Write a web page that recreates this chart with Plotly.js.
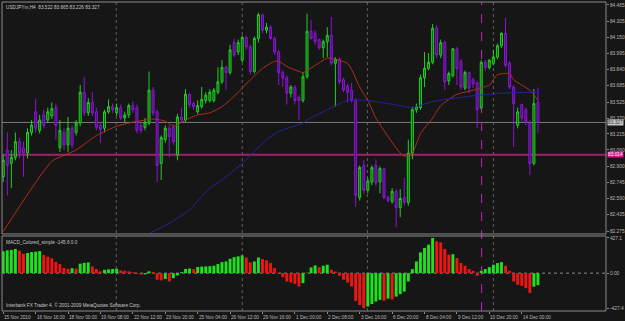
<!DOCTYPE html>
<html><head><meta charset="utf-8">
<script src="https://cdn.plot.ly/plotly-3.0.1.min.js"></script>
<style>html,body{margin:0;padding:0;background:#161616;}#chart{width:625px;height:321px;}</style>
</head><body><div id="chart"></div>
<script>
// H4 candles, USDJPYm (bar number 0 = 15 Nov 2010)
const opens = [
82.80,83.06,82.93,82.99,83.14,83.08,83.03,83.23,83.43,83.25,
83.40,83.35,83.39,83.47,83.08,83.23,83.11,83.27,83.23,83.32,
83.62,83.42,83.52,83.43,83.30,83.27,83.43,83.48,83.42,83.47,
83.37,83.40,83.49,83.47,83.30,83.28,83.32,83.64,83.43,82.93,
83.16,83.27,83.28,83.01,83.38,83.35,83.60,83.51,83.43,83.48,
83.54,83.54,83.54,83.62,83.72,83.86,83.81,84.10,84.01,83.93,
84.15,84.06,83.82,84.14,84.37,84.22,84.25,84.14,84.01,83.81,
83.76,83.61,83.67,83.57,83.54,83.77,84.21,84.19,84.13,84.05,
84.11,84.17,83.90,83.94,83.74,83.68,83.64,83.54,82.60,82.91,
82.67,82.75,82.91,82.75,82.88,82.60,82.56,82.66,82.50,82.60,
82.55,83.03,83.45,83.47,83.76,83.85,83.91,84.24,83.98,84.10,
83.73,83.78,84.04,83.92,83.66,83.81,83.74,83.71,83.47,83.91,
83.86,83.90,83.96,84.07,84.19,83.90,83.67,83.30,83.50,83.45,
83.32,82.93,83.522];
const highs = [
83.01,83.23,83.06,83.23,83.18,83.14,83.27,83.35,83.56,83.40,
83.45,83.47,83.52,83.51,83.35,83.27,83.38,83.30,83.35,83.69,
83.77,83.56,83.62,83.47,83.33,83.45,83.55,83.51,83.51,83.50,
83.43,83.51,83.53,83.50,83.33,83.37,83.82,83.67,83.45,83.20,
83.30,83.30,83.31,83.41,83.47,83.65,83.61,83.53,83.54,83.67,
83.62,83.65,83.66,83.86,83.93,83.88,84.08,84.14,84.13,84.17,
84.17,84.08,84.16,84.39,84.38,84.29,84.27,84.16,84.03,83.83,
83.78,83.69,83.69,83.59,83.81,84.38,84.32,84.22,84.14,84.13,
84.25,84.35,83.96,83.96,83.76,83.70,83.71,83.56,82.91,82.96,
82.79,82.91,82.97,82.90,82.89,82.62,82.69,82.68,82.68,82.79,
83.16,83.48,83.51,83.79,84.01,84.00,84.28,84.27,84.13,84.12,
83.82,84.05,84.06,83.94,83.83,83.82,83.76,83.73,83.93,83.93,
83.94,84.03,84.09,84.20,84.34,83.92,83.69,83.47,83.51,83.47,
83.35,83.65,83.665];
const lows = [
82.75,82.62,82.69,82.96,82.98,82.80,82.98,83.20,83.23,83.22,
83.27,83.32,83.36,83.16,83.04,83.06,83.04,83.08,83.20,83.29,
83.39,83.39,83.39,83.25,83.13,83.23,83.41,83.42,83.39,83.35,
83.33,83.37,83.42,83.22,83.22,83.25,83.30,83.39,82.75,82.77,
83.13,82.99,83.11,82.96,83.32,83.33,83.47,83.45,83.41,83.46,
83.51,83.52,83.52,83.60,83.70,83.64,83.79,83.96,83.98,83.91,
84.03,83.79,83.80,84.10,84.19,84.19,84.13,83.98,83.69,83.67,
83.50,83.57,83.50,83.35,83.52,83.75,84.13,84.08,84.03,83.95,
83.96,83.88,83.48,83.70,83.62,83.52,83.52,82.51,82.57,82.64,
82.64,82.72,82.71,82.64,82.58,82.55,82.54,82.31,82.41,82.52,
82.52,82.97,83.42,83.45,83.67,83.83,83.89,83.95,83.95,83.64,
83.69,83.76,83.69,83.64,83.64,83.61,83.66,83.27,83.45,83.83,
83.84,83.88,83.94,84.05,83.86,83.65,83.09,83.27,83.33,83.30,
82.82,82.91,83.226];
const closes = [
82.96,82.91,82.99,83.14,83.03,83.03,83.23,83.30,83.27,83.35,
83.30,83.43,83.46,83.30,83.25,83.11,83.27,83.11,83.32,83.62,
83.42,83.52,83.42,83.28,83.26,83.43,83.48,83.45,83.47,83.37,
83.40,83.49,83.45,83.25,83.25,83.33,83.64,83.42,82.91,83.18,
83.27,83.19,83.14,83.38,83.35,83.60,83.50,83.48,83.49,83.55,
83.59,83.62,83.64,83.72,83.86,83.81,84.03,83.98,84.10,84.15,
84.06,83.82,84.14,84.37,84.22,84.25,84.14,84.01,83.81,83.76,
83.61,83.67,83.54,83.54,83.77,84.21,84.14,84.11,84.05,84.11,
84.17,83.90,83.94,83.72,83.64,83.62,83.54,82.62,82.89,82.67,
82.76,82.89,82.74,82.88,82.60,82.57,82.66,82.50,82.59,82.55,
83.03,83.45,83.48,83.76,83.85,83.91,84.24,83.98,84.10,83.72,
83.80,84.04,83.85,83.67,83.81,83.66,83.70,83.45,83.91,83.86,
83.93,83.96,84.07,84.19,83.88,83.67,83.51,83.43,83.37,83.33,
82.93,83.51,83.327];
// MACD_Colored_simple histogram
const macd = [
265,277,282,293,273,236,244,256,260,268,
220,200,180,135,110,62,52,60,55,115,
125,130,82,50,22,40,46,50,54,34,
28,22,10,-10,-18,-15,22,10,-80,-88,
-72,-100,-62,-28,12,50,56,48,75,80,
82,85,90,110,134,142,175,195,204,216,
191,130,142,190,171,155,122,61,-5,-49,
-102,-114,-130,-163,-122,5,69,94,73,90,
102,41,20,-33,-81,-114,-163,-338,-387,-427,
-405,-375,-345,-325,-335,-310,-320,-285,-255,-224,
-102,49,142,252,305,346,427,387,374,293,
224,230,183,122,90,49,28,-33,28,49,
73,102,122,134,90,28,-102,-142,-155,-183,
-240,-165,-145.6];
// moving averages read at sample bars
const redMaBar = [0,12,18,23,28,32,37,40,42,45,48,51,54,57,61,64,67,68,70,74,75,77,80,82,85,86,88,90,92,95,98,99,101,103,106,108,112,115,117,120,122,125,126,130,132];
const redMaVal = [82.27,82.95,83.06,83.20,83.29,83.33,83.36,83.34,83.29,83.35,83.40,83.42,83.48,83.58,83.74,83.85,83.92,83.92,83.87,83.81,83.83,83.88,83.95,83.94,83.90,83.84,83.67,83.54,83.37,83.19,83.03,83.00,83.03,83.22,83.37,83.49,83.60,83.63,83.65,83.69,83.79,83.80,83.74,83.64,83.54];
const blueMaBar = [36,41,46,49,51,54,59,65,68,74,75,80,85,90,95,98,101,106,115,123,132];
const blueMaVal = [82.25,82.35,82.48,82.61,82.69,82.77,82.93,83.16,83.24,83.32,83.35,83.45,83.54,83.54,83.51,83.49,83.47,83.53,83.58,83.61,83.62];
const timeLabelBars = [0,8,16,24,32,40,48,56,64,72,80,88,96,104,112,120,128];
const timeLabels = ['15 Nov 2010','16 Nov 16:00','18 Nov 00:00','19 Nov 08:00','22 Nov 12:00','23 Nov 20:00','25 Nov 04:00','26 Nov 12:00','29 Nov 16:00','1 Dec 00:00','2 Dec 08:00','3 Dec 16:00','6 Dec 20:00','8 Dec 04:00','9 Dec 12:00','10 Dec 20:00','14 Dec 00:00'];
const priceTicks = ['84.465','84.305','84.150','83.995','83.840','83.685','83.525','83.370','83.215','83.060','82.900','82.745','82.590','82.435','82.275'];
const macdTicks = ['427.1','0.00','-427.4'];
const bidPrice = 83.327;
const linePrice = 83.014;
const symbolInfo = 'USDJPYm,H4  83.522 83.665 83.226 83.327';
const macdInfo = 'MACD_Colored_simple -145.6 0.0';
const copyright = 'Interbank FX Trader 4, © 2001-2009 MetaQuotes Software Corp.';

const bars = opens.map((_, i) => i);
const macdColors = macd.map((v, i) => (i === 0 || v >= macd[i - 1]) ? '#1ee21e' : '#f01414');

const FONT = 'Liberation Sans, Arial, sans-serif';
const TXT = '#b8b8b8';
const BORDER = '#8a8a8a';
const mainBottom = 0.2492, macdTop = 0.2427;

const traces = [
  {type:'candlestick', x:bars, open:opens, high:highs, low:lows, close:closes,
   xaxis:'x', yaxis:'y', hoverinfo:'skip', whiskerwidth:0,
   increasing:{line:{color:'#22d022', width:1}, fillcolor:'#0c5e0c'},
   decreasing:{line:{color:'#8a16d2', width:1}, fillcolor:'#4a0e7a'}},
  {type:'scatter', mode:'lines', x:redMaBar, y:redMaVal, xaxis:'x', yaxis:'y',
   line:{color:'#b0301a', width:1, shape:'spline', smoothing:0.5}, hoverinfo:'skip'},
  {type:'scatter', mode:'lines', x:blueMaBar, y:blueMaVal, xaxis:'x', yaxis:'y',
   line:{color:'#2424a0', width:1, shape:'spline', smoothing:0.5}, hoverinfo:'skip'},
  {type:'bar', x:bars, y:macd, xaxis:'x', yaxis:'y2', width:0.72,
   marker:{color:macdColors, line:{width:0}}, hoverinfo:'skip'}
];

const vline = (xv, color, dash) => ({type:'line', xref:'x', yref:'paper', x0:xv, x1:xv, y0:0, y1:1, line:{color:color, width:1, dash:dash}, layer:'below'});

const timeAnnotations = timeLabels.map((t, k) => ({
  xref:'x', yref:'paper', x:timeLabelBars[k], y:0, xanchor:'left', yanchor:'top', xshift:-1, yshift:-2,
  showarrow:false, text:t, font:{family:FONT, size:4.7, color:TXT}
}));

const layout = {
  width:625, height:321,
  paper_bgcolor:'#161616', plot_bgcolor:'#161616',
  margin:{l:2, r:19, t:2, b:10},
  showlegend:false,
  font:{family:FONT, size:5, color:TXT},
  xaxis:{domain:[0,1], anchor:'y2', range:[-0.3,148.8], showgrid:false, zeroline:false,
    rangeslider:{visible:false}, tickmode:'array', tickvals:timeLabelBars, showticklabels:false,
    ticks:'outside', ticklen:2, tickcolor:BORDER, automargin:false, showline:false, fixedrange:true},
  yaxis:{domain:[mainBottom,1], anchor:'x', range:[82.246,84.494], side:'right', showgrid:false, zeroline:false,
    tickmode:'array', tickvals:priceTicks.map(Number), ticktext:priceTicks, automargin:false,
    ticks:'outside', ticklen:2, tickcolor:BORDER, tickfont:{family:FONT, size:4.8, color:TXT}, fixedrange:true},
  yaxis2:{domain:[0,macdTop], anchor:'x', range:[-460,451], side:'right', showgrid:false, zeroline:false,
    tickmode:'array', tickvals:macdTicks.map(Number), ticktext:macdTicks, automargin:false,
    ticks:'outside', ticklen:2, tickcolor:BORDER, tickfont:{family:FONT, size:4.8, color:TXT}, fixedrange:true},
  shapes:[
    vline(27.9,'#606060','dot'), vline(59,'#606060','dot'), vline(89.9,'#606060','dot'), vline(121,'#606060','dot'),
    {type:'line', xref:'paper', yref:'y', x0:0, x1:1, y0:bidPrice, y1:bidPrice, line:{color:'#7c7c7c', width:1}, layer:'below'},
    {type:'line', xref:'paper', yref:'y', x0:0, x1:1, y0:linePrice, y1:linePrice, line:{color:'#9c226c', width:2}, layer:'below'},
    {type:'line', xref:'paper', yref:'y2', x0:0, x1:1, y0:0, y1:0, line:{color:'#8a8a8a', width:1, dash:'dot'}, layer:'below'},
    vline(118.1,'#c81ec8','dash'),
    {type:'rect', xref:'paper', yref:'paper', x0:0, x1:1, y0:mainBottom, y1:1, line:{color:BORDER, width:1}},
    {type:'rect', xref:'paper', yref:'paper', x0:0, x1:1, y0:0, y1:macdTop, line:{color:BORDER, width:1}}
  ],
  annotations:[
    {xref:'paper', yref:'paper', x:0, y:1, xanchor:'left', yanchor:'top', xshift:2, yshift:-1, showarrow:false,
     text:symbolInfo, font:{family:FONT, size:4.7, color:'#c8c8c8'}},
    {xref:'paper', yref:'paper', x:0, y:macdTop, xanchor:'left', yanchor:'top', xshift:2, yshift:-2, showarrow:false,
     text:macdInfo, font:{family:FONT, size:4.7, color:'#c8c8c8'}},
    {xref:'paper', yref:'paper', x:0, y:0, xanchor:'left', yanchor:'bottom', xshift:2, yshift:1, showarrow:false,
     text:copyright, font:{family:FONT, size:4.7, color:'#c8c8c8'}},
    {xref:'paper', yref:'y', x:1, y:bidPrice, xanchor:'left', yanchor:'middle', xshift:1, showarrow:false,
     text:bidPrice.toFixed(3), bgcolor:'#c4c4c4', borderpad:0, font:{family:FONT, size:4.8, color:'#3a3a3a'}},
    {xref:'paper', yref:'y', x:1, y:linePrice, xanchor:'left', yanchor:'middle', xshift:1, showarrow:false,
     text:linePrice.toFixed(3), bgcolor:'#d0188c', borderpad:0, font:{family:FONT, size:4.8, color:'#ffffff'}}
  ].concat(timeAnnotations)
};

Plotly.newPlot('chart', traces, layout, {staticPlot:true, displayModeBar:false});
</script>
</body></html>
